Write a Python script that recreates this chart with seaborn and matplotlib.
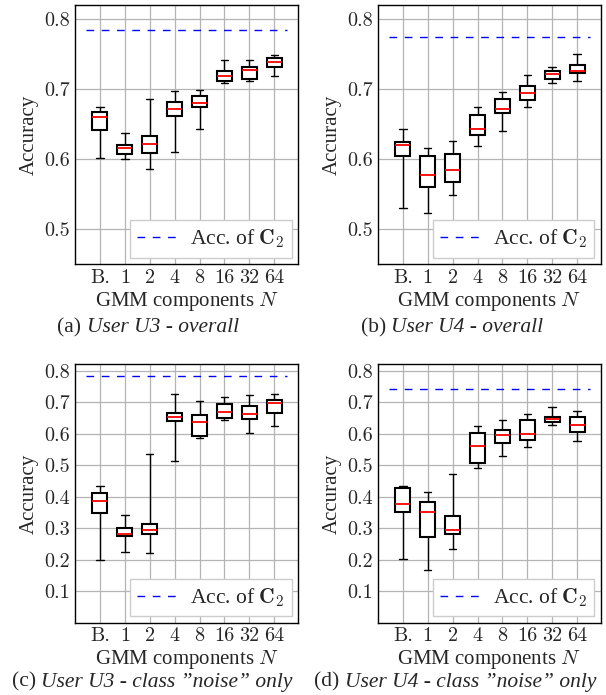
import numpy as np
import pandas as pd
import matplotlib
matplotlib.use("Agg")
import matplotlib.pyplot as plt
from matplotlib.lines import Line2D
import seaborn as sns

categories = ["B.", "1", "2", "4", "8", "16", "32", "64"]

# five-number summaries per category: [min, q1, median, q3, max]
u3_overall = [
    [0.602, 0.642, 0.660, 0.667, 0.674],
    [0.600, 0.608, 0.616, 0.620, 0.637],
    [0.586, 0.609, 0.622, 0.633, 0.686],
    [0.610, 0.661, 0.671, 0.682, 0.697],
    [0.643, 0.674, 0.680, 0.690, 0.699],
    [0.709, 0.712, 0.718, 0.726, 0.741],
    [0.712, 0.715, 0.727, 0.731, 0.741],
    [0.718, 0.732, 0.739, 0.745, 0.748],
]
u4_overall = [
    [0.531, 0.605, 0.620, 0.624, 0.643],
    [0.523, 0.561, 0.578, 0.605, 0.616],
    [0.549, 0.568, 0.584, 0.607, 0.626],
    [0.619, 0.634, 0.643, 0.663, 0.675],
    [0.640, 0.666, 0.671, 0.686, 0.696],
    [0.674, 0.684, 0.695, 0.705, 0.720],
    [0.709, 0.715, 0.722, 0.726, 0.732],
    [0.712, 0.723, 0.726, 0.735, 0.750],
]
u3_noise = [
    [0.199, 0.347, 0.385, 0.412, 0.433],
    [0.223, 0.274, 0.282, 0.302, 0.341],
    [0.220, 0.283, 0.294, 0.314, 0.535],
    [0.512, 0.639, 0.652, 0.667, 0.726],
    [0.587, 0.594, 0.636, 0.658, 0.702],
    [0.642, 0.649, 0.668, 0.694, 0.716],
    [0.601, 0.646, 0.661, 0.687, 0.723],
    [0.624, 0.664, 0.696, 0.707, 0.726],
]
u4_noise = [
    [0.203, 0.352, 0.378, 0.427, 0.435],
    [0.166, 0.273, 0.352, 0.383, 0.415],
    [0.235, 0.281, 0.294, 0.340, 0.473],
    [0.492, 0.507, 0.562, 0.601, 0.624],
    [0.529, 0.570, 0.596, 0.612, 0.643],
    [0.557, 0.580, 0.599, 0.644, 0.662],
    [0.628, 0.637, 0.646, 0.654, 0.683],
    [0.578, 0.605, 0.626, 0.652, 0.673],
]
c2_accuracy = [0.785, 0.774, 0.784, 0.741]
caption_labels = ["(a)", "(b)", "(c)", "(d)"]
caption_texts = ["User U3 - overall", "User U4 - overall",
                 "User U3 - class \u201dnoise\u201d only",
                 "User U4 - class \u201dnoise\u201d only"]
yticks_top = [0.5, 0.6, 0.7, 0.8]
yticks_bottom = [0.1, 0.2, 0.3, 0.4, 0.5, 0.6, 0.7, 0.8]

sns.set_style("whitegrid")
plt.rcParams["font.family"] = ["Liberation Serif", "DejaVu Serif"]
plt.rcParams["mathtext.fontset"] = "cm"

W, H = 606, 695
fig = plt.figure(figsize=(W / 100, H / 100), dpi=100)

panels = [
    (u3_overall, (75, 5, 298, 264.3), (0.45, 0.82), yticks_top),
    (u4_overall, (378, 5, 600.7, 264.3), (0.45, 0.82), yticks_top),
    (u3_noise, (75, 364.3, 298, 622.7), (0.0, 0.82), yticks_bottom),
    (u4_noise, (378, 364.3, 600.7, 622.7), (0.0, 0.82), yticks_bottom),
]
FS = 14.5
FS_LEG = 15.5
FS_CAP = 15.5

axes = []
for i, (summ, (l, t, r, b), ylim, yticks) in enumerate(panels):
    ax = fig.add_axes([l / W, 1 - b / H, (r - l) / W, (b - t) / H])
    axes.append(ax)
    rows = []
    for cat, vals in zip(categories, summ):
        for v in vals:
            rows.append({"N": cat, "acc": v})
    df = pd.DataFrame(rows)
    sns.boxplot(data=df, x="N", y="acc", order=categories, ax=ax,
                whis=(0, 100), width=0.6, color="white", linecolor="black",
                linewidth=1.4, fliersize=0,
                boxprops=dict(facecolor="white", edgecolor="black", linewidth=1.5),
                medianprops=dict(color="red", linewidth=1.3),
                whiskerprops=dict(color="black", linewidth=1.0),
                capprops=dict(color="black", linewidth=1.0))
    ax.hlines(c2_accuracy[i], -0.55, 7.5, colors="blue", linestyles=(0, (5.5, 5.5)),
              linewidth=1.0, zorder=1)
    ax.set_xlim(-1, 7.95)
    ax.set_ylim(*ylim)
    ax.set_yticks(yticks)
    ax.set_yticklabels([f"{v:.1f}" for v in yticks])
    ax.set_axisbelow(True)
    ax.grid(True, color="#b4b4b4", linewidth=0.9)
    for s in ax.spines.values():
        s.set_color("black")
        s.set_linewidth(1.0)
    ax.tick_params(length=0, pad=3.5, labelsize=FS)
    for lab in ax.get_xticklabels() + ax.get_yticklabels():
        lab.set_family("cmr10")
    ax.set_xlabel("GMM components $N$", fontsize=FS + 0.5, labelpad=2)
    ax.set_ylabel("Accuracy", fontsize=FS + 0.5, labelpad=4)
    handle = Line2D([], [], color="blue", linestyle=(0, (5.5, 5.5)), linewidth=1.0)
    leg = ax.legend([handle], [r"Acc. of $\mathbf{C}_2$"], loc="lower right",
                    fontsize=FS_LEG, frameon=True, fancybox=False, framealpha=1,
                    edgecolor="#cccccc", borderaxespad=0.3, handletextpad=0.55,
                    handlelength=1.9, borderpad=0.35)
    leg.get_frame().set_linewidth(1.0)

# captions: upright label + italic text, centred as a whole
renderer = fig.canvas.get_renderer()
cap_centers = [(148, 332), (452, 332), (152, 686.5), (455, 686.5)]
probe1 = fig.text(0, 0, "a a", fontsize=FS_CAP)
probe2 = fig.text(0, 0, "aa", fontsize=FS_CAP)
space_w = probe1.get_window_extent(renderer).width - probe2.get_window_extent(renderer).width
probe1.remove()
probe2.remove()
for lab, txt, (xc, yb) in zip(caption_labels, caption_texts, cap_centers):
    t1 = fig.text(0, 1 - yb / H, lab, fontsize=FS_CAP, va="baseline")
    t2 = fig.text(0, 1 - yb / H, txt, fontsize=FS_CAP, style="italic", va="baseline")
    w1 = t1.get_window_extent(renderer).width
    w2 = t2.get_window_extent(renderer).width
    left = xc - (w1 + space_w + w2) / 2
    t1.set_x(left / W)
    t2.set_x((left + w1 + space_w) / W)

fig.savefig("out.png", dpi=100)
